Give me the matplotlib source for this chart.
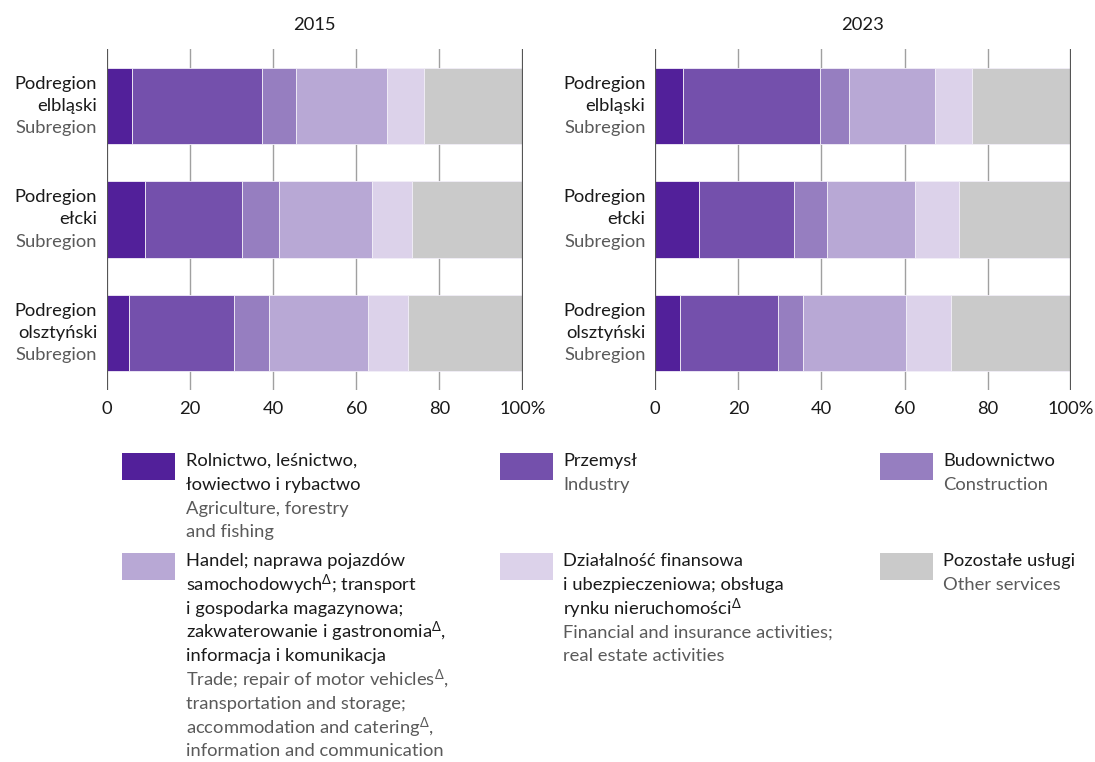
import matplotlib
matplotlib.use("Agg")
import matplotlib.pyplot as plt
from matplotlib.patches import Rectangle
import numpy as np

plt.rcParams['font.family'] = ['Lato', 'DejaVu Sans']
plt.rcParams['mathtext.fontset'] = 'custom'
plt.rcParams['mathtext.rm'] = 'Lato'
plt.rcParams['mathtext.it'] = 'Lato'

years = ["2015", "2023"]
regions_pl = ["Podregion\nelbląski", "Podregion\nełcki", "Podregion\nolsztyński"]
region_en = "Subregion"

sectors = ["Rolnictwo", "Przemysł", "Budownictwo", "Handel", "Finanse", "Pozostałe"]
colors = ["#52209a", "#7450ac", "#967ec0", "#b8a8d5", "#dcd2ea", "#cacaca"]

# shares (%) per region: elbląski, ełcki, olsztyński
data_2015 = {
    "Rolnictwo":   [5.9, 9.1, 5.4],
    "Przemysł":    [31.4, 23.5, 25.1],
    "Budownictwo": [8.2, 8.9, 8.4],
    "Handel":      [21.9, 22.3, 24.0],
    "Finanse":     [8.8, 9.5, 9.5],
    "Pozostałe":   [23.8, 26.7, 27.6],
}
data_2023 = {
    "Rolnictwo":   [6.7, 10.6, 6.0],
    "Przemysł":    [33.0, 22.7, 23.6],
    "Budownictwo": [6.9, 8.0, 5.9],
    "Handel":      [20.8, 21.3, 24.8],
    "Finanse":     [8.8, 10.4, 10.8],
    "Pozostałe":   [23.8, 27.0, 28.9],
}
xticks = [0, 20, 40, 60, 80, 100]
xticklabels = ["0", "20", "40", "60", "80", "100%"]

SUP = r"$^{\mathrm{\Delta}}$"
legend_pl = [
    ["Rolnictwo, leśnictwo,", "łowiectwo i rybactwo"],
    ["Przemysł"],
    ["Budownictwo"],
    ["Handel; naprawa pojazdów", "samochodowych" + SUP + "; transport",
     "i gospodarka magazynowa;", "zakwaterowanie i gastronomia" + SUP + ",",
     "informacja i komunikacja"],
    ["Działalność finansowa", "i ubezpieczeniowa; obsługa", "rynku nieruchomości" + SUP],
    ["Pozostałe usługi"],
]
legend_en = [
    ["Agriculture, forestry", "and fishing"],
    ["Industry"],
    ["Construction"],
    ["Trade; repair of motor vehicles" + SUP + ",", "transportation and storage;",
     "accommodation and catering" + SUP + ",", "information and communication"],
    ["Financial and insurance activities;", "real estate activities"],
    ["Other services"],
]

W, H = 1095, 762
fig = plt.figure(figsize=(W / 100, H / 100), dpi=100)

BLACK = "#1a1a1a"
GRAY = "#5a5a5a"
FS = 13.2

axes_px = [(107, 522.5), (655.3, 1070.7)]
top_px, bot_px = 49, 390
for ax_i, (year, data) in enumerate(zip(years, [data_2015, data_2023])):
    x0, x1 = axes_px[ax_i]
    ax = fig.add_axes([x0 / W, 1 - bot_px / H, (x1 - x0) / W, (bot_px - top_px) / H])
    y = np.arange(len(regions_pl))
    left = np.zeros(len(regions_pl))
    for s, c in zip(sectors, colors):
        vals = np.array(data[s])
        ax.barh(y, vals, left=left, height=0.67, color=c, edgecolor="#f2eef8",
                linewidth=0.6, zorder=3)
        left += vals
    ax.set_xlim(0, 100)
    ax.set_ylim(2.5, -0.5)
    for t in xticks:
        if t in (0, 100):
            ax.axvline(t, color="#555555", lw=1.6, zorder=4)
        else:
            ax.axvline(t, color="#a0a0a0", lw=1.0, zorder=1)
    for sp in ax.spines.values():
        sp.set_visible(False)
    ax.set_yticks([])
    ax.set_xticks(xticks)
    ax.set_xticklabels(xticklabels, fontsize=FS, color=BLACK)
    ax.tick_params(axis="x", length=0, pad=8)
    ax.set_title(year, fontsize=FS, color=BLACK, pad=14)
    for i, name in enumerate(regions_pl):
        l1, l2 = name.split("\n")
        for txt, off, col in [(l1, 16, BLACK), (l2, 0, BLACK), (region_en, -16, GRAY)]:
            ax.annotate(txt, xy=(0, i), xycoords=("axes fraction", "data"),
                        xytext=(-7, off), textcoords="offset points",
                        ha="right", va="center", fontsize=FS, color=col)

# legend
col_patch_x = [122, 500, 880]
col_text_x = [186, 563, 943]
row_top = [453, 553]
line_h = 23.8
for k in range(6):
    r, c = divmod(k, 3)
    px = col_patch_x[c]
    py = row_top[r]
    fig.add_artist(Rectangle((px / W, 1 - (py + 27) / H), 53 / W, 27 / H,
                             transform=fig.transFigure, facecolor=colors[k],
                             edgecolor="none"))
    lines = [(t, BLACK) for t in legend_pl[k]] + [(t, GRAY) for t in legend_en[k]]
    for j, (t, col) in enumerate(lines):
        yc = py + 8 + j * line_h
        fig.text(col_text_x[c] / W, 1 - yc / H, t, ha="left", va="center",
                 fontsize=FS, color=col)

fig.savefig("out.png", dpi=100)
